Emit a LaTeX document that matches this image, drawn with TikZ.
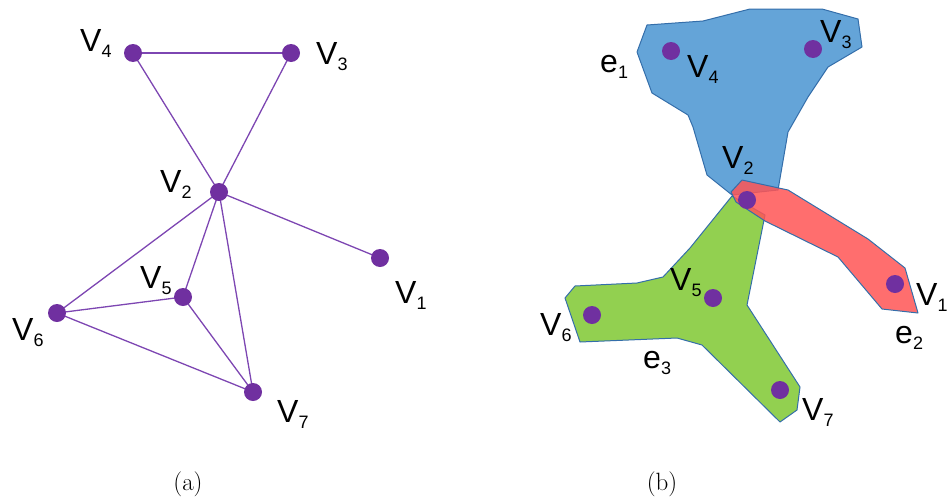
\documentclass[tikz,border=0pt]{standalone}
\usepackage{fontspec}
\newfontfamily\arial{Liberation Sans}
\definecolor{dotc}{RGB}{112,48,160}
\definecolor{edgec}{RGB}{125,70,178}
\definecolor{bluef}{RGB}{100,164,216}
\definecolor{greenf}{RGB}{146,208,80}
\definecolor{redf}{RGB}{255,85,85}
\definecolor{bord}{RGB}{52,110,170}
\newcommand\vlab[2]{#1\raisebox{-6pt}{\fontsize{18}{18}\selectfont #2}}
\tikzset{
  vdot/.style={circle,fill=dotc,inner sep=0pt,minimum size=18pt},
  vedge/.style={draw=edgec,line width=1.3pt},
  lab/.style={anchor=base west,inner sep=0pt,font=\arial\fontsize{32}{32}\selectfont},
  captext/.style={anchor=center,inner sep=0pt,font=\fontsize{25}{25}\selectfont},
  hedge/.style={draw=bord,line width=1pt,line join=round}
}
\begin{document}
\begin{tikzpicture}[x=1pt,y=-1pt]
\useasboundingbox (0,0) rectangle (947,498);
% ---------- (a) graph ----------
\path (133,53) coordinate (c4) (291,53) coordinate (c3) (219,192) coordinate (c2)
  (380,258) coordinate (c1) (183,297) coordinate (c5) (57,313) coordinate (c6) (253,392) coordinate (c7);
\path[vedge] (c4) -- (c3);
\path[vedge] (c4) -- (c2);
\path[vedge] (c3) -- (c2);
\path[vedge] (c2) -- (c1);
\path[vedge] (c2) -- (c6);
\path[vedge] (c2) -- (c5);
\path[vedge] (c2) -- (c7);
\path[vedge] (c5) -- (c6);
\path[vedge] (c5) -- (c7);
\path[vedge] (c6) -- (c7);
\node[vdot] (a4) at (c4) {};
\node[vdot] (a3) at (c3) {};
\node[vdot] (a2) at (c2) {};
\node[vdot] (a1) at (c1) {};
\node[vdot] (a5) at (c5) {};
\node[vdot] (a6) at (c6) {};
\node[vdot] (a7) at (c7) {};
\node[lab] (la4) at (80,51) {\vlab{V}{4}};
\node[lab] (la3) at (316,64) {\vlab{V}{3}};
\node[lab] (la2) at (160,192) {\vlab{V}{2}};
\node[lab] (la5) at (140,288) {\vlab{V}{5}};
\node[lab] (la1) at (395,303) {\vlab{V}{1}};
\node[lab] (la6) at (12,340) {\vlab{V}{6}};
\node[lab] (la7) at (277,422) {\vlab{V}{7}};
% ---------- (b) hypergraph ----------
\path[hedge,fill=bluef] (647,25) -- (703,21) -- (750,9) -- (822,9) -- (858,19) -- (862,47) -- (828,67) -- (808,97) -- (788,132) -- (778,190) -- (732,195) -- (707,175) -- (693,127) -- (688,115) -- (652,93) -- (637,52) -- cycle;
\path[hedge,fill=greenf] (732,196) -- (765,215) -- (747,305) -- (800,387) -- (797,410) -- (780,422) -- (702,345) -- (677,338) -- (580,342) -- (565,298) -- (575,286) -- (637,283) -- (663,277) -- (690,248) -- cycle;
\path[hedge,fill=redf,fill opacity=0.85] (742,180) -- (788,190) -- (868,239) -- (905,268) -- (918,313) -- (882,309) -- (838,257) -- (765,221) -- (736,202) -- (731,192) -- cycle;
\node[vdot] (b4) at (671,51) {};
\node[vdot] (b3) at (813,49) {};
\node[vdot] (b2) at (747,200) {};
\node[vdot] (b1) at (895,284) {};
\node[vdot] (b5) at (713,298) {};
\node[vdot] (b6) at (592,315) {};
\node[vdot] (b7) at (780,390) {};
\node[lab] (lb3) at (820,42) {\vlab{V}{3}};
\node[lab] (lb4) at (687,77) {\vlab{V}{4}};
\node[lab] (lb2) at (722,168) {\vlab{V}{2}};
\node[lab] (lb5) at (670,290) {\vlab{V}{5}};
\node[lab] (lb6) at (540,335) {\vlab{V}{6}};
\node[lab] (lb7) at (802,420) {\vlab{V}{7}};
\node[lab] (lb1) at (916,305) {\vlab{V}{1}};
\node[lab] (le1) at (600,72) {\vlab{e}{1}};
\node[lab] (le2) at (895,343) {\vlab{e}{2}};
\node[lab] (le3) at (643,368) {\vlab{e}{3}};
% captions
\node[captext] (capa) at (188,484) {(a)};
\node[captext] (capb) at (662,484) {(b)};
\end{tikzpicture}
\end{document}
